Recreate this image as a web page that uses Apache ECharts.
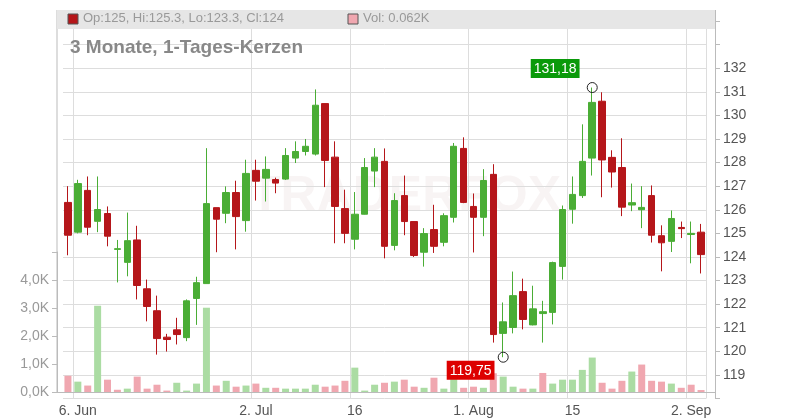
<!DOCTYPE html>
<html><head><meta charset="utf-8">
<script src="https://cdn.jsdelivr.net/npm/echarts@6/dist/echarts.min.js"></script>
<style>html,body{margin:0;padding:0;background:#fff}#c{width:800px;height:420px}</style>
</head><body><div id="c"></div>
<script>
const dates = ['2024-06-05','2024-06-06','2024-06-07','2024-06-10','2024-06-11','2024-06-12','2024-06-13','2024-06-14','2024-06-17','2024-06-18','2024-06-19','2024-06-20','2024-06-21','2024-06-24','2024-06-25','2024-06-26','2024-06-27','2024-06-28','2024-07-01','2024-07-02','2024-07-03','2024-07-04','2024-07-05','2024-07-08','2024-07-09','2024-07-10','2024-07-11','2024-07-12','2024-07-15','2024-07-16','2024-07-17','2024-07-18','2024-07-19','2024-07-22','2024-07-23','2024-07-24','2024-07-25','2024-07-26','2024-07-29','2024-07-30','2024-07-31','2024-08-01','2024-08-02','2024-08-05','2024-08-06','2024-08-07','2024-08-08','2024-08-09','2024-08-12','2024-08-13','2024-08-14','2024-08-15','2024-08-16','2024-08-19','2024-08-20','2024-08-21','2024-08-22','2024-08-23','2024-08-26','2024-08-27','2024-08-28','2024-08-29','2024-08-30','2024-09-02','2024-09-03'];
const opens  = [126.31,125.05,126.82,125.51,125.84,124.32,123.77,124.72,122.65,121.72,120.6,120.91,120.58,122.24,122.87,126.09,125.85,126.73,125.54,127.67,127.34,127.28,127.3,128.19,128.47,128.36,130.5,128.23,126.05,124.75,125.81,127.64,128.05,124.49,126.6,125.5,124.2,125.16,124.62,125.68,128.6,126.14,125.68,127.5,120.76,121.01,122.53,121.12,121.6,121.65,123.6,126.02,126.6,128.19,130.6,128.22,127.79,126.2,126.0,126.6,124.9,124.66,125.25,124.95,125.05];
const closes = [124.92,127.11,125.26,126.01,124.88,124.35,124.69,122.79,121.9,120.54,120.5,120.71,122.14,122.91,126.26,125.6,126.73,125.71,127.54,127.21,127.71,127.13,128.3,128.47,128.69,130.43,128.09,126.14,125.0,125.81,127.79,128.23,124.45,126.39,125.5,124.06,124.99,124.45,125.75,128.69,126.31,125.68,127.24,120.71,121.25,122.36,121.35,121.8,121.68,123.76,126.01,126.65,128.05,130.55,128.11,127.6,126.11,126.3,126.1,124.92,124.6,125.63,125.2,125.0,124.1];
const highs  = [127.0,127.27,127.41,127.41,126.14,124.72,125.88,125.32,123.04,122.36,120.74,121.42,122.2,123.16,128.61,126.09,126.99,127.23,128.12,128.12,128.26,127.36,128.61,128.9,129.0,131.1,130.5,128.9,126.85,126.75,128.19,128.61,128.6,126.7,127.45,125.5,125.22,126.21,125.85,128.83,129.07,126.69,127.72,127.93,122.07,123.38,123.08,122.78,122.14,123.8,126.18,127.41,129.62,131.18,130.98,128.52,129.03,127.11,127.0,127.03,125.34,125.97,125.5,125.5,125.4];
const lows   = [124.07,125.0,124.92,125.05,124.45,122.92,123.18,122.2,121.27,119.86,119.99,120.29,120.43,121.12,122.87,124.2,125.43,124.32,125.07,126.39,126.35,126.7,127.26,127.98,128.3,128.3,126.96,124.58,124.58,124.32,125.8,126.96,123.94,124.28,124.92,124.0,123.59,124.17,124.45,125.46,126.28,124.19,124.88,120.37,119.75,120.76,120.93,121.1,120.37,121.14,123.04,125.41,126.5,127.45,126.53,126.94,125.73,125.94,125.22,124.61,123.39,124.21,124.8,123.73,123.3];
const volumesK = [0.58,0.37,0.23,3.08,0.44,0.08,0.12,0.55,0.12,0.26,0.05,0.33,0.05,0.30,3.01,0.23,0.40,0.19,0.23,0.30,0.15,0.15,0.12,0.12,0.12,0.26,0.19,0.23,0.40,0.87,0.05,0.26,0.33,0.37,0.44,0.19,0.15,0.51,0.12,0.48,0.15,0.19,0.15,0.67,0.55,0.19,0.12,0.12,0.68,0.30,0.44,0.44,0.79,1.23,0.33,0.12,0.40,0.73,0.98,0.40,0.37,0.30,0.15,0.26,0.07];
const xLabels = {'2024-06-06':'6. Jun','2024-07-02':'2. Jul','2024-07-16':'16','2024-08-01':'1. Aug','2024-08-15':'15','2024-09-02':'2. Sep'};
const priceTicks = [119,120,121,122,123,124,125,126,127,128,129,130,131,132];
const volTicks = [0,1,2,3,4];
const extremes = {high:['2024-08-19',131.18,'131,18'], low:['2024-08-06',119.75,'119,75']};

const GREEN='#4aad35', RED='#b5161a';
const candles = dates.map((d,i)=>({value:[opens[i],closes[i],lows[i],highs[i]]}));
const vols = volumesK.map((v,i)=>{
  const up = i===0 ? closes[i]>=opens[i] : closes[i]>=closes[i-1];
  return {value:v,itemStyle:{color: up?'#abdca3':'#f0a7b0'}};
});
const isLab = (i)=>xLabels[dates[i]]!==undefined;

const chart = echarts.init(document.getElementById('c'));
chart.setOption({
  animation:false,
  backgroundColor:'#fff',
  grid:[
    {left:63,right:94,top:21,bottom:21.5},
    {left:63,right:94,bottom:28,height:140}
  ],
  xAxis:[
    {type:'category',data:dates,gridIndex:0,boundaryGap:true,
     axisLine:{show:false},axisTick:{show:false},
     axisLabel:{interval:(i)=>isLab(i),formatter:(v)=>xLabels[v]||'',color:'#555',fontSize:14,margin:6,fontFamily:'Liberation Sans'},
     splitLine:{show:true,interval:(i)=>isLab(i),lineStyle:{color:'#ddd'}}},
    {type:'category',data:dates,gridIndex:1,boundaryGap:true,
     axisLine:{show:false},axisTick:{show:false},axisLabel:{show:false},splitLine:{show:false}}
  ],
  yAxis:[
    {type:'value',gridIndex:0,position:'right',offset:9,min:118,max:134,interval:1,
     axisLine:{show:true,lineStyle:{color:'#bbb'}},axisTick:{show:true,length:5,lineStyle:{color:'#bbb'}},
     axisLabel:{color:'#555',fontSize:14,margin:8,fontFamily:'Liberation Sans',
       formatter:(v)=>priceTicks.indexOf(v)>=0?String(v):''},
     splitLine:{lineStyle:{color:'#ddd'}}},
    {type:'value',gridIndex:1,position:'left',offset:6,min:0,max:5,interval:1,
     axisLine:{show:true,lineStyle:{color:'#bbb'}},axisTick:{show:true,length:5,lineStyle:{color:'#bbb'}},
     axisLabel:{color:'#999',fontSize:14,margin:8,fontFamily:'Liberation Sans',
       formatter:(v)=>volTicks.indexOf(v)>=0?v.toFixed(1).replace('.',',')+'K':''},
     splitLine:{show:false}}
  ],
  graphic:[
    {type:'line',shape:{x1:57,y1:392.5,x2:715,y2:392.5},style:{stroke:'#bbb',lineWidth:1},z:5},
    {type:'line',shape:{x1:57,y1:10,x2:57,y2:392},style:{stroke:'#bbb',lineWidth:1},z:5},
    {type:'line',shape:{x1:715.5,y1:10,x2:715.5,y2:22},style:{stroke:'#bbb',lineWidth:1},z:5},
    {type:'text',left:250,top:172,z:0,style:{text:'TRADERFOX',fontSize:50,fontWeight:'bold',fill:'rgba(220,200,200,0.2)',fontFamily:'Liberation Sans'}},
    {type:'rect',shape:{x:57,y:10,width:658,height:19},style:{fill:'#e6e6e6'},z:10},
    {type:'rect',shape:{x:68,y:14,width:10,height:10},style:{fill:RED,stroke:'#555',lineWidth:1},z:11},
    {type:'text',x:83,y:12,z:11,style:{text:'Op:125, Hi:125.3, Lo:123.3, Cl:124',fontSize:13,fill:'#999',fontFamily:'Liberation Sans'}},
    {type:'rect',shape:{x:348,y:14,width:10,height:10},style:{fill:'#f0a7b0',stroke:'#555',lineWidth:1},z:11},
    {type:'text',x:363,y:12,z:11,style:{text:'Vol: 0.062K',fontSize:13,fill:'#999',fontFamily:'Liberation Sans'}},
    {type:'text',x:70,y:38,z:11,style:{text:'3 Monate, 1-Tages-Kerzen',fontSize:19,fontWeight:'bold',fill:'#888',fontFamily:'Liberation Sans'}}
  ],
  series:[
    {type:'candlestick',xAxisIndex:0,yAxisIndex:0,data:candles,barWidth:7,
     itemStyle:{color:GREEN,color0:RED,borderColor:GREEN,borderColor0:RED,borderWidth:1},
     markPoint:{symbol:'circle',symbolSize:10,animation:false,
       itemStyle:{color:'rgba(255,255,255,0)',borderColor:'#222',borderWidth:1},
       data:[
         {coord:[extremes.high[0],extremes.high[1]],label:{show:true,formatter:extremes.high[2],position:[-56,-23],color:'#fff',backgroundColor:'#0a9a0a',padding:[3,3,2,3],fontSize:14,fontFamily:'Liberation Sans'}},
         {coord:[extremes.low[0],extremes.low[1]],label:{show:true,formatter:extremes.low[2],position:[-51,9],color:'#fff',backgroundColor:'#d00',padding:[3,3,2,3],fontSize:14,fontFamily:'Liberation Sans'}}
       ]}},
    {type:'bar',xAxisIndex:1,yAxisIndex:1,data:vols,barWidth:7,z:1}
  ]
});
</script></body></html>
